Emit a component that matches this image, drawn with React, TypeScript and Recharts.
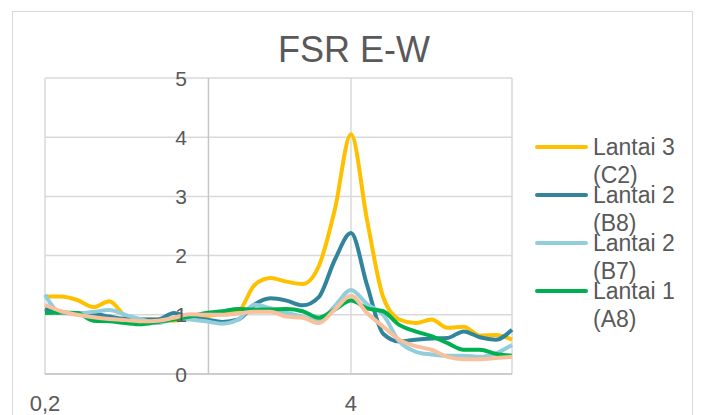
import React from 'react';
import { LineChart, Line, XAxis, YAxis, CartesianGrid, Legend, ReferenceLine } from 'recharts';

const freq = [
  0.2, 0.4, 0.6, 0.8, 1.0, 1.2, 1.4, 1.6, 1.8, 2.0,
  2.2, 2.4, 2.6, 2.8, 3.0, 3.2, 3.4, 3.6, 3.8, 4.0,
  4.2, 4.4, 4.6, 4.8, 5.0, 5.2, 5.4, 5.6, 5.8, 6.0,
];

const lantai3C2 = [
  1.31, 1.31, 1.25, 1.13, 1.23, 0.98, 0.92, 0.92, 0.9, 0.95,
  0.98, 1.02, 1.06, 1.5, 1.62, 1.56, 1.52, 1.82, 2.78, 4.05,
  2.6, 1.3, 0.92, 0.86, 0.92, 0.78, 0.8, 0.65, 0.66, 0.58,
];

const lantai2B8 = [
  1.1, 1.03, 1.03, 1.02, 0.97, 0.93, 0.92, 0.92, 1.03, 0.95,
  0.92, 0.88, 0.92, 1.17, 1.28, 1.24, 1.16, 1.3, 1.93, 2.38,
  1.5, 0.68, 0.55, 0.58, 0.6, 0.61, 0.72, 0.62, 0.58, 0.75,
];

const lantai2B7 = [
  1.34, 1.03, 1.02, 1.05, 1.08, 1.0, 0.92, 0.86, 0.93, 0.92,
  0.89, 0.85, 0.92, 1.17, 1.11, 1.03, 0.97, 0.9, 1.15, 1.42,
  1.18, 1.0, 0.55, 0.38, 0.33, 0.31, 0.31, 0.29, 0.35, 0.49,
];

const lantai1A8 = [
  1.03, 1.04, 1.03, 0.9, 0.89, 0.86, 0.84, 0.88, 0.92, 0.97,
  1.03, 1.06, 1.1, 1.09, 1.09, 1.1, 1.06, 0.95, 1.09, 1.24,
  1.11, 1.06, 0.83, 0.72, 0.64, 0.52, 0.41, 0.41, 0.34, 0.31,
];

// fifth series, its legend entry is cut off in the original
const lantai1A7 = [
  1.17, 1.06, 1.0, 0.96, 0.93, 0.91, 0.89, 0.9, 0.95, 1.01,
  1.0, 1.0, 1.02, 1.05, 1.05, 0.97, 0.95, 0.86, 1.09, 1.32,
  1.03, 0.8, 0.58, 0.47, 0.41, 0.29, 0.25, 0.25, 0.27, 0.29,
];

const seriesNames = ['Lantai 3 (C2)', 'Lantai 2 (B8)', 'Lantai 2 (B7)', 'Lantai 1 (A8)'];
const xTicks = [0.2, 4];
const yTicks = [0, 1, 2, 3, 4, 5];

const data = freq.map((f, i) => ({
  f,
  c2: lantai3C2[i],
  b8: lantai2B8[i],
  b7: lantai2B7[i],
  a8: lantai1A8[i],
  a7: lantai1A7[i],
}));

const FONT = '"Liberation Sans", Arial, sans-serif';
const TEXT = '#595959';

const XTick = (props: any) => (
  <text x={props.x} y={411} textAnchor="middle" fontSize={22} fill={TEXT} fontFamily={FONT}>
    {String(props.payload.value).replace('.', ',')}
  </text>
);

const YTick = (props: any) => (
  <text x={187} y={props.y + 7.5} textAnchor="end" fontSize={21} fill={TEXT} fontFamily={FONT}>
    {props.payload.value}
  </text>
);

const LegendBox = (props: any) => {
  const items = (props.payload || [])
    .filter((p: any) => seriesNames.includes(p.value))
    .sort((a: any, b: any) => seriesNames.indexOf(a.value) - seriesNames.indexOf(b.value));
  return (
    <div style={{ position: 'relative', width: 0, height: 0 }}>
      {items.map((p: any, i: number) => {
        const [first, second] = String(p.value).split(' (');
        return (
          <div key={p.value} style={{ position: 'absolute', left: 535, top: 133 + i * 48.1, width: 160 }}>
            <div style={{ position: 'absolute', left: 0, top: 12, width: 53, height: 4, background: p.color, borderRadius: 2 }} />
            <div style={{ position: 'absolute', left: 58, top: 0, fontFamily: FONT, fontSize: 23, lineHeight: '28px', color: TEXT, whiteSpace: 'nowrap' }}>
              <div>{first}</div>
              <div>({second}</div>
            </div>
          </div>
        );
      })}
    </div>
  );
};

export default function App() {
  return (
    <div style={{ position: 'absolute', left: 0, top: 0, width: 702, height: 415, background: '#fff', overflow: 'hidden' }}>
      <div style={{ position: 'absolute', left: 12, top: 11, width: 679, height: 420, border: '1.5px solid #d9d9d9' }} />
      <div style={{ position: 'absolute', left: 0, top: 29, width: 708, textAlign: 'center', fontFamily: FONT, fontSize: 36, color: TEXT }}>
        FSR E-W
      </div>
      <div style={{ position: 'absolute', left: 0, top: 0 }}>
        <LineChart width={702} height={415} data={data} margin={{ top: 78, right: 190, bottom: 0, left: 0 }}>
          <CartesianGrid stroke="#d9d9d9" strokeWidth={1.5} />
          <XAxis
            dataKey="f"
            type="number"
            domain={[0.2, 6]}
            ticks={xTicks}
            height={41}
            tick={<XTick />}
            tickLine={false}
            axisLine={{ stroke: '#c6c6c6', strokeWidth: 1.5 }}
          />
          <YAxis
            domain={[0, 5]}
            ticks={yTicks}
            width={45}
            tick={<YTick />}
            tickLine={false}
            axisLine={false}
          />
          <ReferenceLine x={2.23} stroke="#c6c6c6" strokeWidth={1.5} />
          <Line dataKey="c2" name="Lantai 3 (C2)" type="monotone" stroke="#FFC000" strokeWidth={4} dot={false} isAnimationActive={false} />
          <Line dataKey="b8" name="Lantai 2 (B8)" type="monotone" stroke="#31849B" strokeWidth={4} dot={false} isAnimationActive={false} />
          <Line dataKey="b7" name="Lantai 2 (B7)" type="monotone" stroke="#92CDDC" strokeWidth={4} dot={false} isAnimationActive={false} />
          <Line dataKey="a8" name="Lantai 1 (A8)" type="monotone" stroke="#00B050" strokeWidth={4} dot={false} isAnimationActive={false} />
          <Line dataKey="a7" name="Lantai 1 (A7)" type="monotone" stroke="#F8C09C" strokeWidth={4} dot={false} legendType="none" isAnimationActive={false} />
          <Legend
            content={<LegendBox />}
            wrapperStyle={{ position: 'absolute', left: 0, top: 0, width: 0, height: 0 }}
          />
        </LineChart>
      </div>
    </div>
  );
}
